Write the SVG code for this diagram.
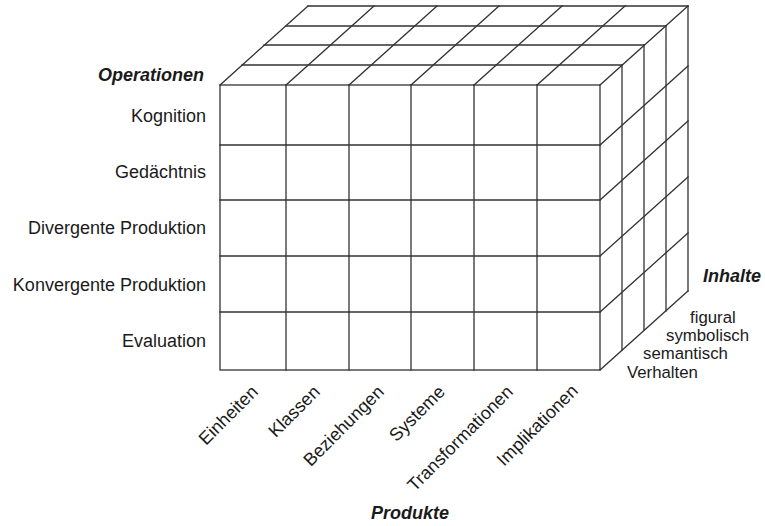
<svg xmlns="http://www.w3.org/2000/svg" width="765" height="526" viewBox="0 0 765 526">
<style>
.g{fill:none;stroke:#333;stroke-width:1.3;stroke-linecap:square}
.t{font-family:"Liberation Sans",Arial,sans-serif;font-size:18px;fill:#1a1a1a}
.s{font-family:"Liberation Sans",Arial,sans-serif;font-size:16.8px;fill:#1a1a1a}
.h{font-family:"Liberation Sans",Arial,sans-serif;font-size:18px;font-weight:bold;font-style:italic;fill:#1a1a1a}
.r{text-anchor:end}
</style>
<rect width="765" height="526" fill="#fff"/>
<g id="cube" class="g">
<g id="front">
<rect x="220" y="85" width="380" height="285"/>
<path d="M220 145H600M220 200H600M220 256H600M220 312H600"/>
<path d="M286 85V370M349 85V370M411 85V370M474 85V370M537 85V370"/>
</g>
<g id="top">
<path d="M242 65H622M264 45H644M286 26H666M308 6H688"/>
<path d="M220 85L308 6M286 85L374 6M349 85L437 6M411 85L499 6M474 85L562 6M537 85L625 6M600 85L688 6"/>
</g>
<g id="side">
<path d="M622 65V350M644 45V330M666 26V311M688 6V291"/>
<path d="M600 145L688 66M600 200L688 121M600 256L688 177M600 312L688 233M600 370L688 291"/>
</g>
</g>
<g id="operationen">
<text class="h r" x="204" y="81">Operationen</text>
<text class="t r" x="206" y="122">Kognition</text>
<text class="t r" x="206" y="178">Gedächtnis</text>
<text class="t r" x="206" y="234">Divergente Produktion</text>
<text class="t r" x="206" y="291">Konvergente Produktion</text>
<text class="t r" x="206" y="347">Evaluation</text>
</g>
<g id="inhalte">
<text class="h" x="703" y="282">Inhalte</text>
<text class="s" x="690" y="323">figural</text>
<text class="s" x="666" y="341">symbolisch</text>
<text class="s" x="643" y="359">semantisch</text>
<text class="s" x="627" y="378">Verhalten</text>
</g>
<g id="produkte">
<text class="t r" transform="translate(259,393) rotate(-45)">Einheiten</text>
<text class="t r" transform="translate(321,393) rotate(-45)">Klassen</text>
<text class="t r" transform="translate(385,393) rotate(-45)">Beziehungen</text>
<text class="t r" transform="translate(446,393) rotate(-45)">Systeme</text>
<text class="t r" transform="translate(514,393) rotate(-45)">Transformationen</text>
<text class="t r" transform="translate(579,392) rotate(-45)">Implikationen</text>
<text class="h" x="410" y="519" text-anchor="middle">Produkte</text>
</g>
</svg>
